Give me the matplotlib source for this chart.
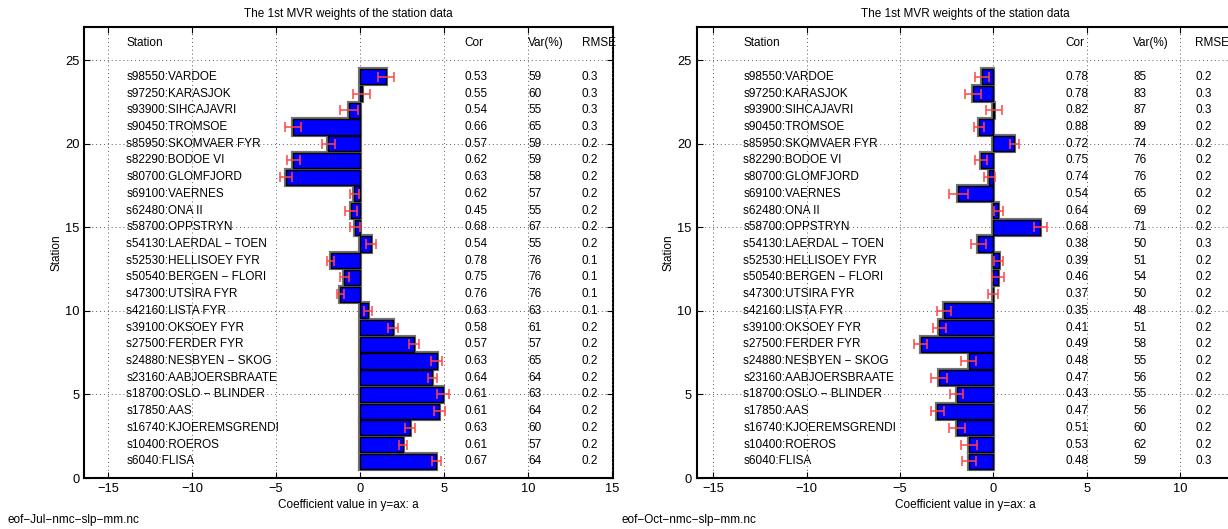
import numpy as np
import matplotlib
matplotlib.use("Agg")
import matplotlib.pyplot as plt

plt.rcParams['font.family'] = ['Liberation Sans', 'DejaVu Sans']
plt.rcParams['font.size'] = 8.5

M = "\u2212"
# stations, top (y=24) to bottom (y=1)
stations = ["s98550:VARDOE", "s97250:KARASJOK", "s93900:SIHCAJAVRI", "s90450:TROMSOE",
            "s85950:SKOMVAER FYR", "s82290:BODOE VI", "s80700:GLOMFJORD", "s69100:VAERNES",
            "s62480:ONA II", "s58700:OPPSTRYN", "s54130:LAERDAL " + M + " TOEN",
            "s52530:HELLISOEY FYR", "s50540:BERGEN " + M + " FLORI", "s47300:UTSIRA FYR",
            "s42160:LISTA FYR", "s39100:OKSOEY FYR", "s27500:FERDER FYR",
            "s24880:NESBYEN " + M + " SKOG", "s23160:AABJOERSBRAATE",
            "s18700:OSLO " + M + " BLINDER", "s17850:AAS", "s16740:KJOEREMSGRENDI",
            "s10400:ROEROS", "s6040:FLISA"]

# July
jul_coef = [1.55, 0.1, -0.65, -4.0, -1.88, -3.97, -4.42, -0.34, -0.54, -0.3, 0.65, -1.75,
            -0.93, -1.17, 0.48, 1.96, 3.21, 4.56, 4.31, 4.92, 4.72, 2.98, 2.56, 4.54]
jul_err = [0.47, 0.5, 0.52, 0.46, 0.38, 0.38, 0.37, 0.28, 0.38, 0.3, 0.29, 0.22,
           0.25, 0.2, 0.22, 0.28, 0.27, 0.32, 0.28, 0.35, 0.34, 0.28, 0.26, 0.28]
jul_cor = ["0.53", "0.55", "0.54", "0.66", "0.57", "0.62", "0.63", "0.62", "0.45", "0.68", "0.54", "0.78",
           "0.75", "0.76", "0.63", "0.58", "0.57", "0.63", "0.64", "0.61", "0.61", "0.63", "0.61", "0.67"]
jul_var = ["59", "60", "55", "65", "59", "59", "58", "57", "55", "67", "55", "76",
           "76", "76", "63", "61", "57", "65", "64", "63", "64", "60", "57", "64"]
jul_rmse = ["0.3", "0.3", "0.3", "0.3", "0.2", "0.2", "0.2", "0.2", "0.2", "0.2", "0.2", "0.1",
            "0.1", "0.1", "0.1", "0.2", "0.2", "0.2", "0.2", "0.2", "0.2", "0.2", "0.2", "0.2"]

# October
oct_coef = [-0.59, -1.07, 0.05, -0.77, 1.11, -0.66, -0.23, -1.87, 0.27, 2.52, -0.8, 0.28,
            0.25, -0.03, -2.64, -2.89, -3.89, -1.32, -2.89, -1.96, -3.0, -1.96, -1.32, -1.3]
oct_err = [0.38, 0.43, 0.43, 0.25, 0.24, 0.3, 0.3, 0.49, 0.23, 0.34, 0.39, 0.25,
           0.3, 0.25, 0.36, 0.35, 0.35, 0.39, 0.43, 0.35, 0.36, 0.43, 0.42, 0.36]
oct_cor = ["0.78", "0.78", "0.82", "0.88", "0.72", "0.75", "0.74", "0.54", "0.64", "0.68", "0.38", "0.39",
           "0.46", "0.37", "0.35", "0.41", "0.49", "0.48", "0.47", "0.43", "0.47", "0.51", "0.53", "0.48"]
oct_var = ["85", "83", "87", "89", "74", "76", "76", "65", "69", "71", "50", "51",
           "54", "50", "48", "51", "58", "55", "56", "55", "56", "60", "62", "59"]
oct_rmse = ["0.2", "0.3", "0.3", "0.2", "0.2", "0.2", "0.2", "0.2", "0.2", "0.2", "0.3", "0.2",
            "0.2", "0.2", "0.2", "0.2", "0.2", "0.2", "0.2", "0.2", "0.2", "0.2", "0.2", "0.3"]

fig = plt.figure(figsize=(12.28, 5.29), dpi=100)


def panel(rect, coef, err, cor, var, rmse, xlim, cols, fname, fx, clipped=False):
	ax = fig.add_axes(rect)
	y = np.arange(len(stations), 0, -1)
	ax.barh(y, coef, height=0.9, color='blue', edgecolor='0.45', linewidth=3, zorder=2)
	ax.barh(y, coef, height=0.9, color='blue', edgecolor='black', linewidth=1, zorder=3)
	ax.errorbar(coef, y, xerr=err, fmt='none', ecolor='#ff4545', elinewidth=1.1,
	            capsize=3.5, capthick=1.1, zorder=4)
	xs, xc, xv, xr = cols
	for i in range(len(stations)):
		ax.text(xs, y[i], stations[i], va='center', ha='left', zorder=5)
		ax.text(xc, y[i], cor[i], va='center', ha='left', zorder=5)
		ax.text(xv, y[i], var[i], va='center', ha='left', zorder=5)
		ax.text(xr, y[i], rmse[i], va='center', ha='left', zorder=5)
	ax.text(xs, 26, "Station", va='center', ha='left')
	ax.text(xc, 26, "Cor", va='center', ha='left')
	ax.text(xv, 26, "Var(%)", va='center', ha='left')
	ax.text(xr, 26, "RMSE", va='center', ha='left')
	ax.set_xlim(xlim)
	ax.set_ylim(0, 27)
	ticks = [t for t in [-15, -10, -5, 0, 5, 10, 15] if xlim[0] <= t <= xlim[1]]
	ax.set_xticks(ticks)
	ax.set_xticklabels([str(t).replace("-", M) for t in ticks])
	ax.set_yticks([0, 5, 10, 15, 20, 25])
	ax.tick_params(direction='in', top=True, right=not clipped, length=4, labelsize=9.3)
	ax.grid(True, linestyle=(0, (1, 3)), color='0.35', linewidth=0.7)
	ax.set_axisbelow(False)
	for s in ax.spines.values():
		s.set_linewidth(1.5)
	if clipped:
		ax.spines['right'].set_visible(False)
	ax.set_title("The 1st MVR weights of the station data", fontsize=8.5, pad=7)
	ax.set_xlabel("Coefficient value in y=ax: a", labelpad=3)
	ax.set_ylabel("Station", labelpad=2)
	fig.text(fx, 0.006, fname, ha='left', va='bottom')
	return ax


panel([0.0687, 0.0964, 0.4305, 0.8531], jul_coef, jul_err, jul_cor, jul_var, jul_rmse,
      (-16.4, 15.05), (-13.9, 6.2, 10.0, 13.2), "eof" + M + "Jul" + M + "nmc" + M + "slp" + M + "mm.nc", 0.006)
panel([0.5672, 0.0964, 0.4373, 0.8531], oct_coef, oct_err, oct_cor, oct_var, oct_rmse,
      (-15.9, 12.86), (-13.4, 3.84, 7.5, 10.8), "eof" + M + "Oct" + M + "nmc" + M + "slp" + M + "mm.nc", 0.506,
      clipped=True)

fig.savefig("out.png", dpi=100)
